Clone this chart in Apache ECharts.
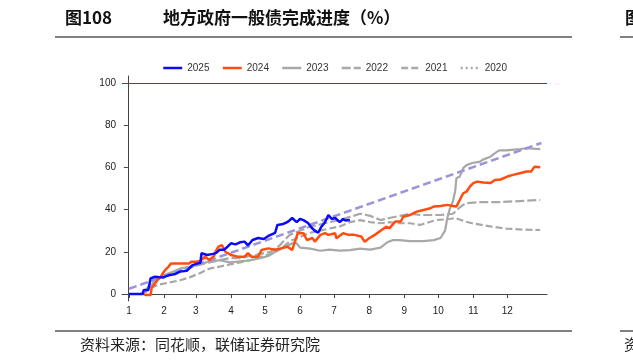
<!DOCTYPE html>
<html>
<head>
<meta charset="utf-8">
<script src="https://cdn.jsdelivr.net/npm/echarts@6/dist/echarts.min.js"></script>
<style>html,body{margin:0;padding:0;background:#fff;}#c{width:633px;height:363px;}</style>
</head>
<body>
<div id="c"></div>
<script>
// ---- data ----
var monthStart = [1, 32, 60, 91, 121, 152, 182, 213, 244, 274, 305, 335];
var monthLabels = ['1','2','3','4','5','6','7','8','9','10','11','12'];
var yTicks = [0, 20, 40, 60, 80, 100];
var seriesNames = ['2025', '2024', '2023', '2022', '2021', '2020'];

var s2025 = [[1,0],[13,0],[14,1.9],[18,1.9],[20,7.4],[24,8.2],[28,8],[31,7.8],[34,8.5],[37,9],[42,9.5],[46,10.6],[52,11],[57,13.7],[62,14.5],[64,14.8],[65,19.3],[70,18.5],[75,19],[78,19.5],[81,20.9],[85,21],[88,22.4],[91,24],[95,23.5],[99,24.5],[103,24.8],[106,23],[110,25.6],[115,26.5],[120,26],[124,27.5],[130,29],[132,32.7],[136,33],[139,33.6],[142,34.5],[145,36],[149,34],[152,35.5],[155,35],[159,33.6],[162,31.5],[165,30],[168,29],[171,32],[174,34],[177,37.4],[180,35.5],[183,36],[187,34],[190,35.5],[192,34.8],[196,35]];

var s2024 = [[14,0],[16,-0.5],[20,-0.5],[21,3],[24,5],[26,6.6],[29,8],[31,10],[33,11.4],[36,13],[38,14.5],[44,14.5],[50,14.5],[54,14.5],[56,15.3],[60,15.3],[64,15.6],[68,17.7],[72,16.1],[76,18],[78,20.8],[80,22.4],[83,23.2],[86,20],[91,18.5],[97,17.7],[103,17.7],[106,19.3],[109,17.7],[115,17.7],[118,20.8],[124,21.6],[130,21],[135,21.6],[141,22.4],[145,20.8],[148,25.6],[150,28.8],[155,28.8],[158,25.6],[163,26.5],[165,24.8],[170,28],[174,28.8],[177,28],[183,28.8],[184,26.4],[190,28.8],[195,28],[200,28],[206,27.2],[209,24.8],[213,26.4],[218,28],[224,30.3],[228,31.9],[231,31.2],[236,34.3],[241,34.3],[243,36.6],[249,37.4],[255,39],[261,39.8],[267,40.6],[270,41.4],[276,41.7],[282,42.2],[287,41.7],[290,41.4],[293,44.5],[296,47.7],[299,48.5],[302,50.9],[305,52.5],[308,53.2],[314,52.8],[320,52.5],[324,54],[329,54.2],[335,55.6],[340,56.4],[346,57.2],[352,58],[356,58],[359,60.3],[364,60]];

var s2023 = [[11,0],[16,1],[20,4],[24,6],[28,7.5],[33,9],[37,10],[46,12],[55,13],[64,14],[72,15.5],[81,16],[90,15],[99,15.5],[108,16],[117,17],[124,18],[130,20],[137,22],[143,23.5],[148,24.5],[152,22],[161,21.5],[170,20.5],[178,21],[187,20.5],[196,20.8],[205,21.5],[214,21],[223,22],[229,24.5],[234,25.5],[240,25.5],[249,25],[261,25],[270,25.5],[276,26.5],[280,30],[282,36],[284,40],[287,44],[289,49],[290,54.8],[293,55.6],[296,59.6],[299,61],[304,62],[311,62.7],[313,63.5],[320,65],[326,67.4],[328,68],[334,68],[346,68.6],[352,69],[364,68.6]];

var s2022 = [[15,1],[20,5],[24,7],[28,8],[37,10],[46,11],[55,12.5],[64,14],[72,15],[81,16],[90,17],[99,17],[108,18],[117,19],[126,20],[134,23],[139,26],[143,28],[152,30],[161,32],[170,33],[178,34],[187,35],[196,36.5],[205,38],[214,37],[223,35],[231,36],[240,37],[249,38],[258,37.4],[276,37.4],[287,38],[293,41],[298,43],[311,43.5],[328,43.5],[346,44],[364,44.5]];

var s2021 = [[20,3],[28,4.5],[37,5.5],[46,6.5],[55,8],[64,10],[72,12],[81,13],[90,14],[99,15],[108,16],[117,17.5],[126,19],[134,21],[143,25],[152,27],[161,29],[170,30],[178,31],[187,32],[196,34],[205,35],[214,34],[223,33.5],[231,34],[240,33.5],[249,33.5],[258,32.7],[272,35],[284,35.5],[289,36],[298,34.3],[304,33.5],[320,32],[334,31],[348,30.5],[364,30.3]];

var s2020 = [];

var progress = [[1,2.5],[365,71.5]];
var targetLine = 100;

// ---- chart ----
var chart = echarts.init(document.getElementById('c'));
var FONT = '"Liberation Sans", Arial, sans-serif';
var CJK = '"Noto Sans CJK SC", sans-serif';

function lineSeries(name, data, color, width, type, z) {
  return {
    name: name, type: 'line', data: data, symbol: 'none', showSymbol: false, z: z,
    lineStyle: { color: color, width: width, type: type },
    itemStyle: { color: color },
    animation: false
  };
}

var option = {
  animation: false,
  grid: { left: 122, right: 86, top: 76, bottom: 62, containLabel: false },
  legend: {
    data: seriesNames,
    left: 157, top: 58,
    itemWidth: 19, itemHeight: 10, itemGap: 12,
    textStyle: { fontSize: 10, color: '#333', fontFamily: FONT },
    itemStyle: { opacity: 0, borderWidth: 0 },
    lineStyle: { width: 2.5 }
  },
  xAxis: {
    type: 'value', min: -5.2, max: 370,
    axisLine: { show: true, lineStyle: { color: '#444', width: 1 } },
    axisTick: { show: true, customValues: monthStart, length: 4, lineStyle: { color: '#444' } },
    axisLabel: {
      customValues: monthStart, fontSize: 10, color: '#222', fontFamily: FONT, margin: 5,
      formatter: function (v) { var i = monthStart.indexOf(Math.round(v)); return i >= 0 ? monthLabels[i] : ''; }
    },
    splitLine: { show: false }
  },
  yAxis: {
    type: 'value', min: -3.3, max: 103.2,
    axisLine: { show: true, lineStyle: { color: '#444', width: 1 } },
    axisTick: { show: true, customValues: yTicks, length: 4, lineStyle: { color: '#444' } },
    axisLabel: { customValues: yTicks, fontSize: 10, color: '#222', fontFamily: FONT, margin: 6 },
    splitLine: { show: false }
  },
  series: [
    lineSeries('2025', s2025, '#0a0aff', 2.5, 'solid', 10),
    lineSeries('2024', s2024, '#ff4d0f', 2.5, 'solid', 9),
    lineSeries('2023', s2023, '#a8a8a8', 2.2, 'solid', 5),
    lineSeries('2022', s2022, '#a8a8a8', 2.2, [9, 3], 5),
    lineSeries('2021', s2021, '#a8a8a8', 2.2, [7, 3], 5),
    lineSeries('2020', s2020, '#a8a8a8', 2.2, [2, 3], 5),
    {
      name: 'progress', type: 'line', data: progress, symbol: 'none', z: 6,
      lineStyle: { color: '#9a94dc', width: 2.5, type: [8, 4] },
      markLine: {
        silent: true, symbol: 'none', label: { show: false },
        lineStyle: { color: '#c8103a', width: 1, type: 'solid' },
        data: [{ yAxis: targetLine }]
      }
    }
  ],
  graphic: [
    { type: 'text', left: 65, top: 9, style: { text: '图108', font: 'bold 17px ' + CJK, fill: '#111' } },
    { type: 'text', left: 163, top: 9, style: { text: '地方政府一般债完成进度（%）', font: 'bold 17px ' + CJK, fill: '#111' } },
    { type: 'line', shape: { x1: 55, y1: 37, x2: 572, y2: 37 }, style: { stroke: '#808080', lineWidth: 2 } },
    { type: 'line', shape: { x1: 620, y1: 37, x2: 633, y2: 37 }, style: { stroke: '#808080', lineWidth: 2 } },
    { type: 'text', left: 625, top: 9, style: { text: '图', font: 'bold 17px ' + CJK, fill: '#111' } },
    { type: 'line', shape: { x1: 55, y1: 331, x2: 572, y2: 331 }, style: { stroke: '#808080', lineWidth: 2 } },
    { type: 'line', shape: { x1: 620, y1: 331, x2: 633, y2: 331 }, style: { stroke: '#808080', lineWidth: 2 } },
    { type: 'text', left: 80, top: 337, style: { text: '资料来源：同花顺，联储证券研究院', font: '15px ' + CJK, fill: '#222' } },
    { type: 'text', left: 624, top: 337, style: { text: '资', font: '15px ' + CJK, fill: '#222' } }
  ]
};
chart.setOption(option);
</script>
</body>
</html>
